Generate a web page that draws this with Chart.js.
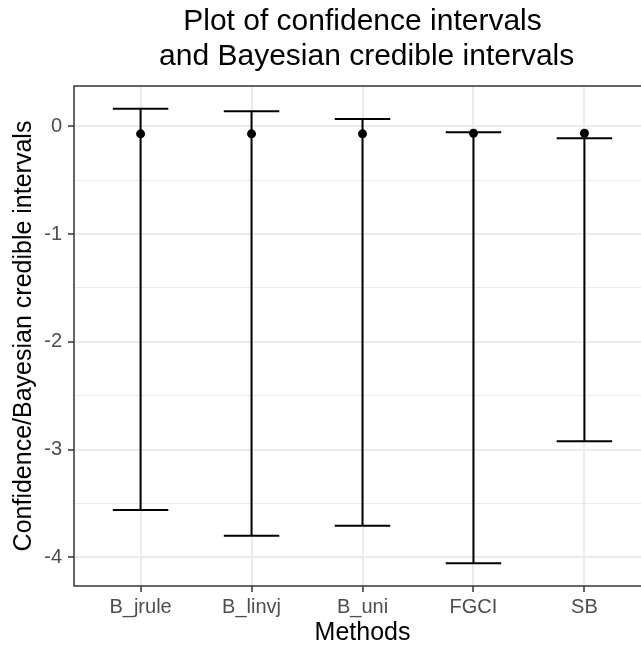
<!DOCTYPE html>
<html>
<head>
<meta charset="utf-8">
<title>Plot of confidence intervals and Bayesian credible intervals</title>
<script src="https://cdn.jsdelivr.net/npm/chart.js@4.4.1/dist/chart.umd.min.js"></script>
<style>
    html, body { margin: 0; padding: 0; background: #fff; overflow: hidden; }
    #wrap { width: 660px; height: 646px; }
</style>
</head>
<body>
<div id="wrap"><canvas id="ci-chart" width="660" height="646"></canvas></div>
<script>
// Methods and interval values
const methods = ['B_jrule', 'B_linvj', 'B_uni', 'FGCI', 'SB'];
const estimates = [-0.07, -0.07, -0.07, -0.065, -0.065];
const lowerBounds = [-3.562, -3.80, -3.707, -4.056, -2.923];
const upperBounds = [0.163, 0.139, 0.068, -0.056, -0.111];
const yTickValues = [-4, -3.5, -3, -2.5, -2, -1.5, -1, -0.5, 0];

const fontFamily = "'Liberation Sans', Arial, Helvetica, sans-serif";
const capHalf = 0.25;

// ggplot style 5% expansion on the data range
const allVals = lowerBounds.concat(upperBounds, estimates);
const dataMin = Math.min(...allVals);
const dataMax = Math.max(...allVals);
const pad = (dataMax - dataMin) * 0.05;

// Build the error bar line datasets (whisker + two caps per method)
const barDatasets = [];
methods.forEach((m, i) => {
    const x = i + 1;
    const segs = [
        [{ x: x, y: lowerBounds[i] }, { x: x, y: upperBounds[i] }],
        [{ x: x - capHalf, y: upperBounds[i] }, { x: x + capHalf, y: upperBounds[i] }],
        [{ x: x - capHalf, y: lowerBounds[i] }, { x: x + capHalf, y: lowerBounds[i] }]
    ];
    segs.forEach(seg => {
        barDatasets.push({
            type: 'line',
            data: seg,
            borderColor: '#000000',
            borderWidth: 2,
            pointRadius: 0,
            fill: false,
            tension: 0
        });
    });
});

const pointDataset = {
    type: 'scatter',
    data: estimates.map((v, i) => ({ x: i + 1, y: v })),
    backgroundColor: '#000000',
    borderWidth: 0,
    pointRadius: 4.5
};

// Panel border drawn on top like theme_bw
const panelBorder = {
    id: 'panelBorder',
    afterDatasetsDraw(chart) {
        const { ctx, chartArea } = chart;
        ctx.save();
        ctx.strokeStyle = '#333333';
        ctx.lineWidth = 1.5;
        ctx.strokeRect(chartArea.left, chartArea.top, chartArea.right - chartArea.left, chartArea.bottom - chartArea.top);
        ctx.restore();
    }
};

const isMajor = v => Math.abs(v - Math.round(v)) < 1e-6;

const ctx = document.getElementById('ci-chart').getContext('2d');
const chart = new Chart(ctx, {
    data: {
        datasets: barDatasets.concat([pointDataset])
    },
    options: {
        responsive: false,
        animation: false,
        devicePixelRatio: 1,
        layout: {
            padding: { left: 0, right: 9, top: 0, bottom: 0 }
        },
        plugins: {
            legend: { display: false },
            tooltip: { enabled: false },
            title: {
                display: true,
                fullSize: false,
                text: ['Plot of confidence intervals', ' and Bayesian credible intervals'],
                color: '#000000',
                font: { family: fontFamily, size: 30, weight: 'normal', lineHeight: 35 / 30 },
                padding: { top: 4, bottom: 12 }
            }
        },
        scales: {
            x: {
                type: 'linear',
                min: 0.4,
                max: methods.length + 0.6,
                afterBuildTicks: scale => {
                    scale.ticks = methods.map((m, i) => ({ value: i + 1 }));
                },
                afterFit: scale => { scale.height = 60; },
                ticks: {
                    callback: value => methods[Math.round(value) - 1] || '',
                    color: '#4D4D4D',
                    font: { family: fontFamily, size: 20 },
                    padding: 3,
                    maxRotation: 0,
                    autoSkip: false
                },
                grid: {
                    color: '#EBEBEB',
                    lineWidth: 2,
                    drawTicks: true,
                    tickLength: 6,
                    tickColor: '#333333',
                    tickWidth: 1.5
                },
                border: { display: false },
                title: {
                    display: true,
                    text: 'Methods',
                    color: '#000000',
                    font: { family: fontFamily, size: 25, lineHeight: 1 },
                    padding: { top: 0, bottom: 0 }
                }
            },
            y: {
                type: 'linear',
                min: dataMin - pad,
                max: dataMax + pad,
                afterBuildTicks: scale => {
                    scale.ticks = yTickValues.map(v => ({ value: v }));
                },
                afterFit: scale => { scale.width = 74; },
                ticks: {
                    callback: value => isMajor(value) ? String(Math.round(value)) : '',
                    color: '#4D4D4D',
                    font: { family: fontFamily, size: 20 },
                    padding: 6,
                    autoSkip: false
                },
                grid: {
                    color: '#EBEBEB',
                    lineWidth: c => isMajor(c.tick.value) ? 2 : 1,
                    drawTicks: true,
                    tickLength: 6,
                    tickColor: c => isMajor(c.tick.value) ? '#333333' : 'rgba(0,0,0,0)',
                    tickWidth: 1.5
                },
                border: { display: false },
                title: {
                    display: true,
                    text: 'Confidence/Bayesian credible intervals',
                    color: '#000000',
                    font: { family: fontFamily, size: 25, lineHeight: 1 },
                    padding: { top: 12, bottom: 0 }
                }
            }
        }
    },
    plugins: [panelBorder]
});
</script>
</body>
</html>
